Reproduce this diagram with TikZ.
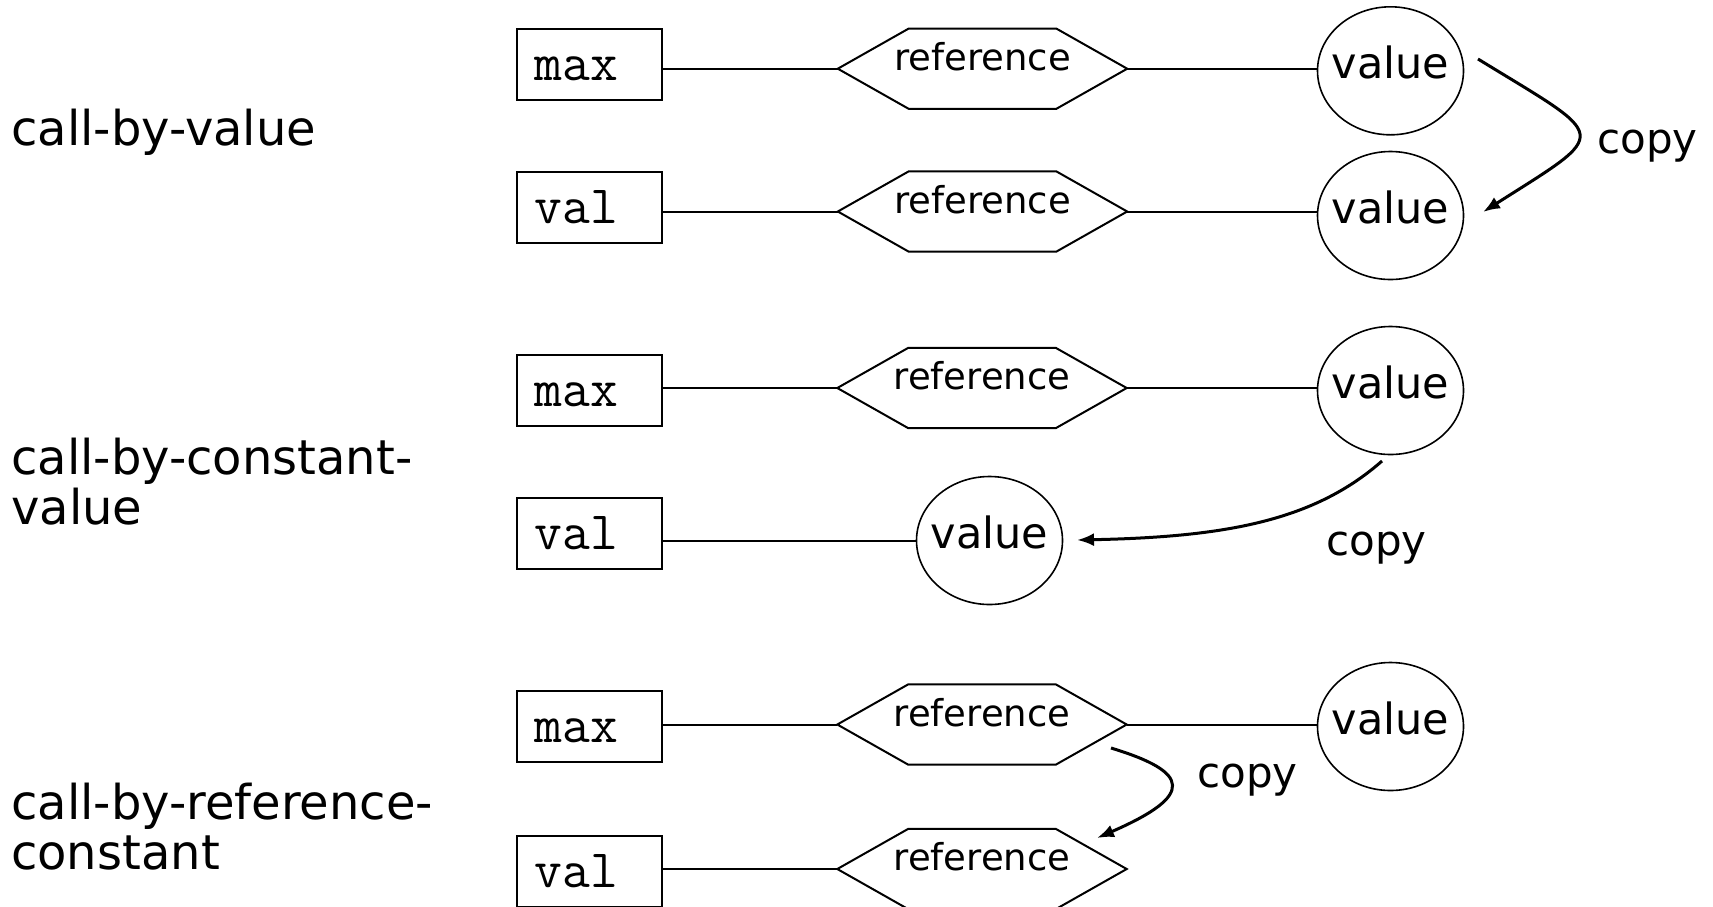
\documentclass[tikz,border=0pt]{standalone}
\usepackage{fontspec}
\setmainfont{DejaVu Sans}
\usetikzlibrary{shapes.geometric,arrows.meta,calc}
\newcommand\drawhexa[1]{\draw[link] (#1.west) -- ([xshift=71pt]#1.north west) -- ([xshift=-71pt]#1.north east) -- (#1.east) -- ([xshift=-71pt]#1.south east) -- ([xshift=71pt]#1.south west) -- cycle;}
\newcommand\ctext[1]{\makebox[0pt]{#1}}
\begin{document}
\begin{tikzpicture}[x=1pt,y=-1pt,
  lbl/.style={anchor=base west, inner sep=0pt, font=\fontsize{48}{50}\selectfont},
  varbox/.style={draw, line width=2pt, anchor=base, inner xsep=18pt, inner ysep=0pt,
    text width=109pt, text height=51.5pt, text depth=19.5pt, align=left,
    font=\ttfamily\fontsize{54}{54}\selectfont},
  hexbox/.style={minimum width=289pt, minimum height=80pt, inner sep=0pt,
    font=\fontsize{37}{37}\selectfont, text height=27pt, text depth=24pt},
  valnode/.style={draw, ellipse, line width=1.6pt, minimum width=146pt, minimum height=128pt,
    inner sep=0pt, font=\fontsize{43}{43}\selectfont, text height=33pt, text depth=18pt},
  link/.style={line width=2pt},
  copyarr/.style={line width=3pt, -{Latex[length=17pt,width=13pt]}},
  copylbl/.style={anchor=base west, inner sep=0pt, font=\fontsize{42}{42}\selectfont}
]
\fill[white] (0,0) rectangle (1713,906);
\useasboundingbox (0,0) rectangle (1713,906);

% left labels
\node[lbl] (l1)  at (11,145)   {call-by-value};
\node[lbl] (l2a) at (11,474)   {call-by-constant-};
\node[lbl] (l2b) at (11,524.5) {value};
\node[lbl] (l3a) at (11,819.5) {call-by-reference-};
\node[lbl] (l3b) at (11,869.5) {constant};

% row 1
\node[varbox] (b1) at (589,80) {max};
\node[hexbox] (h1) at (982.5,68.7) {reference};
\drawhexa{h1}
\node[valnode] (v1) at (1390.5,70.8) {\ctext{value}};
\draw[link] (h1.west -| b1.east) -- (h1.west);
\draw[link] (h1.east) -- (h1.east -| v1.west);

% row 2
\node[varbox] (b2) at (589,223.7) {val};
\node[hexbox] (h2) at (982.5,211.5) {reference};
\drawhexa{h2}
\node[valnode] (v2) at (1390.5,215.5) {\ctext{value}};
\draw[link] (h2.west -| b2.east) -- (h2.west);
\draw[link] (h2.east) -- (h2.east -| v2.west);

% copy 1
\coordinate (a1s) at (1478,59);
\coordinate (a1e) at (1483,212);
\draw[copyarr] (a1s) .. controls (1610,140) and (1612,130) .. (a1e);
\node[copylbl] (c1) at (1597,153) {copy};

% row 3
\node[varbox] (b3) at (589,406) {max};
\node[hexbox] (h3) at (982,388) {reference};
\drawhexa{h3}
\node[valnode] (v3) at (1390.5,390.5) {\ctext{value}};
\draw[link] (h3.west -| b3.east) -- (h3.west);
\draw[link] (h3.east) -- (h3.east -| v3.west);

% row 4
\node[varbox] (b4) at (589,549.7) {val};
\node[valnode] (v4) at (989.5,540.5) {\ctext{value}};
\draw[link] (v4.west -| b4.east) -- (v4.west);

% copy 2
\coordinate (a2s) at (1382,461);
\coordinate (a2e) at (1077,540);
\draw[copyarr] (a2s) .. controls (1314.5,520.4) and (1227,537) .. (a2e);
\node[copylbl] (c2) at (1326,555) {copy};

% row 5
\node[varbox] (b5) at (589,742) {max};
\node[hexbox] (h5) at (982,724.5) {reference};
\drawhexa{h5}
\node[valnode] (v5) at (1390.5,726.5) {\ctext{value}};
\draw[link] (h5.west -| b5.east) -- (h5.west);
\draw[link] (h5.east) -- (h5.east -| v5.west);

% row 6
\node[varbox] (b6) at (589,887) {val};
\node[hexbox] (h6) at (982,869) {reference};
\drawhexa{h6}
\draw[link] (h6.west -| b6.east) -- (h6.west);

% copy 3
\coordinate (a3s) at (1111,748);
\coordinate (a3e) at (1097,838);
\draw[copyarr] (a3s) .. controls (1190,772) and (1196,795) .. (a3e);
\node[copylbl] (c3) at (1197,787) {copy};
\end{tikzpicture}
\end{document}
